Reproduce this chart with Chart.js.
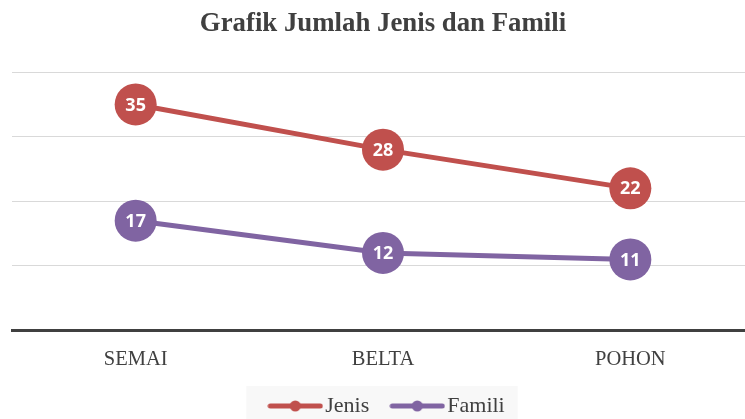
<!DOCTYPE html>
<html>
<head>
<meta charset="utf-8">
<script src="https://cdn.jsdelivr.net/npm/chart.js@4/dist/chart.umd.min.js"></script>
<style>
  html, body { margin: 0; padding: 0; background: #fff; overflow: hidden; }
  #wrap { width: 766px; height: 427px; }
</style>
</head>
<body>
<div id="wrap"><canvas id="chart" width="766" height="427"></canvas></div>
<script>
const categories = ["SEMAI", "BELTA", "POHON"];
const jenisValues = [35, 28, 22];
const familiValues = [17, 12, 11];
const yTicks = [0, 10, 20, 30, 40];

const RED = "#c0504d";
const PURPLE = "#8064a2";
const TEXT = "#404040";

// legend marker: thick line with a dot in the middle
function legendMarker(color) {
  const c = document.createElement("canvas");
  c.width = 56;
  c.height = 14;
  const g = c.getContext("2d");
  g.strokeStyle = color;
  g.lineWidth = 5;
  g.lineCap = "round";
  g.beginPath();
  g.moveTo(3, 7);
  g.lineTo(53, 7);
  g.stroke();
  g.fillStyle = color;
  g.beginPath();
  g.arc(28, 7, 5.5, 0, Math.PI * 2);
  g.fill();
  return c;
}

const valueLabels = {
  id: "valueLabels",
  afterDatasetsDraw(chart) {
    const ctx = chart.ctx;
    ctx.save();
    ctx.fillStyle = "#fff";
    ctx.font = "bold 18px 'Open Sans', sans-serif";
    ctx.textAlign = "center";
    ctx.textBaseline = "middle";
    chart.data.datasets.forEach((ds, i) => {
      chart.getDatasetMeta(i).data.forEach((pt, j) => {
        ctx.fillText(ds.data[j], pt.x, pt.y + 1);
      });
    });
    ctx.restore();
  }
};

const legendBg = {
  id: "legendBg",
  afterLayout(chart) {
    // nudge the legend a little right, as in the picture
    if (chart.legend) chart.legend.left += 15;
  },
  beforeDraw(chart) {
    const boxes = chart.legend && chart.legend.legendHitBoxes;
    if (!boxes || !boxes.length) return;
    const first = boxes[0], last = boxes[boxes.length - 1];
    const ctx = chart.ctx;
    const left = first.left - 30;
    const right = last.left + last.width + 13;
    const top = first.top + first.height / 2 - 20;
    ctx.save();
    ctx.fillStyle = "#f8f8f8";
    ctx.fillRect(left, top, right - left, 60);
    ctx.restore();
  }
};

new Chart(document.getElementById("chart"), {
  type: "line",
  data: {
    labels: categories,
    datasets: [
      {
        label: "Jenis",
        data: jenisValues,
        borderColor: RED,
        backgroundColor: RED,
        pointBackgroundColor: RED,
        pointBorderWidth: 0,
        pointRadius: 21,
        pointHoverRadius: 21,
        borderWidth: 5,
        tension: 0
      },
      {
        label: "Famili",
        data: familiValues,
        borderColor: PURPLE,
        backgroundColor: PURPLE,
        pointBackgroundColor: PURPLE,
        pointBorderWidth: 0,
        pointRadius: 21,
        pointHoverRadius: 21,
        borderWidth: 5,
        tension: 0
      }
    ]
  },
  options: {
    responsive: false,
    animation: false,
    events: [],
    layout: { autoPadding: false, padding: { left: 12, right: 12, top: 4, bottom: 0 } },
    plugins: {
      title: {
        display: true,
        text: "Grafik Jumlah Jenis dan Famili",
        color: TEXT,
        font: { family: "'Liberation Serif', serif", size: 26.8, weight: "bold" },
        padding: { top: 4, bottom: 32 }
      },
      legend: {
        position: "bottom",
        labels: {
          usePointStyle: true,
          pointStyleWidth: 38,
          boxHeight: 14,
          padding: 29,
          color: TEXT,
          font: { family: "'Liberation Serif', serif", size: 22 },
          generateLabels(chart) {
            return chart.data.datasets.map((ds, i) => ({
              text: ds.label,
              fillStyle: ds.borderColor,
              strokeStyle: ds.borderColor,
              fontColor: TEXT,
              lineWidth: 0,
              pointStyle: legendMarker(ds.borderColor),
              datasetIndex: i,
              hidden: false
            }));
          }
        }
      },
      tooltip: { enabled: false }
    },
    scales: {
      x: {
        offset: true,
        grid: { display: false },
        border: { display: true, color: TEXT, width: 3 },
        afterFit(scale) {
          scale.height -= 15;
          scale.paddingLeft = 0;
          scale.paddingRight = 0;
        },
        ticks: {
          color: TEXT,
          padding: 9,
          maxRotation: 0,
          font: { family: "'Liberation Serif', serif", size: 20.5 }
        }
      },
      y: {
        min: 0,
        max: 40,
        afterBuildTicks(scale) {
          scale.ticks = yTicks.map(v => ({ value: v }));
        },
        afterFit(scale) {
          scale.width = 0;
        },
        grid: {
          color: ctx => (ctx.tick && ctx.tick.value === 0 ? "rgba(0,0,0,0)" : "#d9d9d9"),
          lineWidth: 1,
          drawTicks: false
        },
        border: { display: false },
        ticks: { display: false }
      }
    }
  },
  plugins: [legendBg, valueLabels]
});
</script>
</body>
</html>
